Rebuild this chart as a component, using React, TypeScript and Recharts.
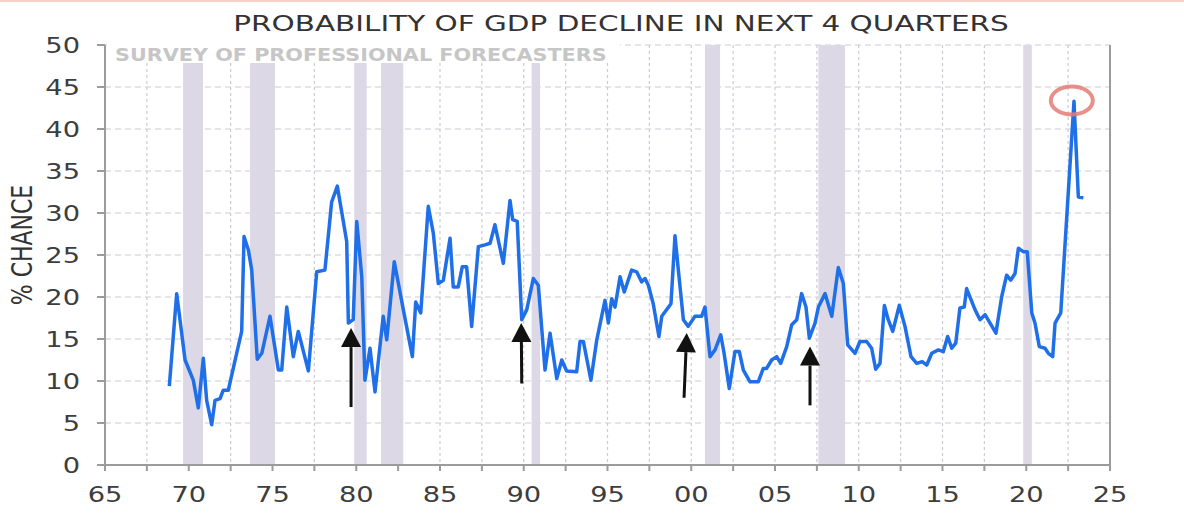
import React from 'react';
import {
  LineChart,
  Line,
  XAxis,
  YAxis,
  CartesianGrid,
  ReferenceArea,
  ReferenceLine,
  ReferenceDot,
} from 'recharts';

// ---- data ----
const years = [
  1968.84, 1969.28, 1969.78, 1970.27, 1970.57, 1970.87, 1971.07, 1971.37, 1971.57, 1971.87,
  1972.06, 1972.36, 1972.86, 1973.16, 1973.3, 1973.56, 1973.76, 1974.09, 1974.36, 1974.85,
  1975.35, 1975.55, 1975.85, 1976.24, 1976.54, 1977.14, 1977.64, 1978.13, 1978.53, 1978.87,
  1979.43, 1979.53, 1979.82, 1980.03, 1980.33, 1980.52, 1980.82, 1981.12, 1981.61, 1981.82,
  1982.27, 1982.81, 1983.35, 1983.55, 1983.85, 1984.3, 1984.6, 1984.9, 1985.2, 1985.6,
  1985.79, 1986.09, 1986.33, 1986.59, 1986.89, 1987.29, 1987.69, 1987.99, 1988.28, 1988.78,
  1989.18, 1989.34, 1989.61, 1989.88, 1990.18, 1990.57, 1990.87, 1991.27, 1991.57, 1991.97,
  1992.27, 1992.56, 1993.16, 1993.36, 1993.56, 1994.01, 1994.36, 1994.85, 1995.05, 1995.25,
  1995.45, 1995.75, 1996.0, 1996.44, 1996.74, 1997.04, 1997.24, 1997.44, 1997.73, 1998.07,
  1998.24, 1998.79, 1999.03, 1999.23, 1999.53, 1999.82, 2000.22, 2000.62, 2000.82, 2001.12,
  2001.42, 2001.76, 2001.96, 2002.27, 2002.61, 2002.87, 2003.11, 2003.51, 2004.0, 2004.3,
  2004.5, 2004.8, 2005.1, 2005.34, 2005.7, 2006.0, 2006.3, 2006.59, 2006.85, 2007.05,
  2007.39, 2007.59, 2007.99, 2008.39, 2008.78, 2009.08, 2009.34, 2009.78, 2010.07, 2010.47,
  2010.77, 2011.01, 2011.27, 2011.53, 2011.76, 2012.03, 2012.42, 2012.76, 2013.12, 2013.46,
  2013.79, 2014.06, 2014.36, 2014.75, 2015.05, 2015.31, 2015.55, 2015.79, 2016.04, 2016.3,
  2016.44, 2016.94, 2017.24, 2017.54, 2017.84, 2018.19, 2018.53, 2018.83, 2019.07, 2019.33,
  2019.53, 2019.82, 2020.06, 2020.33, 2020.52, 2020.78, 2021.12, 2021.32, 2021.58, 2021.72,
  2022.06, 2022.85, 2023.11, 2023.41,
];

const probability = [
  9.4, 20.4, 12.5, 10.1, 6.8, 12.7, 7.7, 4.8, 7.7, 7.9,
  8.9, 8.9, 13.3, 15.9, 27.2, 25.6, 23.2, 12.6, 13.3, 17.7,
  11.3, 11.3, 18.8, 12.9, 15.9, 11.2, 23.0, 23.2, 31.3, 33.2,
  26.6, 16.9, 17.3, 29.0, 22.4, 10.1, 13.9, 8.7, 17.7, 14.9,
  24.2, 18.5, 12.9, 19.4, 18.1, 30.8, 27.6, 21.6, 22.0, 27.0,
  21.2, 21.2, 23.6, 23.6, 16.5, 26.0, 26.2, 26.4, 28.6, 24.0,
  31.5, 29.2, 29.0, 17.3, 18.5, 22.2, 21.4, 11.3, 15.7, 10.3,
  12.5, 11.2, 11.1, 14.7, 14.7, 10.1, 14.9, 19.6, 16.9, 19.8,
  18.8, 22.4, 20.6, 23.2, 23.0, 21.8, 22.2, 21.4, 19.2, 15.3,
  17.7, 19.2, 27.3, 23.2, 17.3, 16.5, 17.7, 17.7, 18.8, 12.9,
  13.7, 15.5, 13.3, 9.1, 13.5, 13.5, 11.3, 9.9, 9.9, 11.5,
  11.5, 12.5, 12.9, 12.1, 14.1, 16.7, 17.3, 20.4, 18.8, 15.1,
  16.9, 18.8, 20.4, 17.7, 23.5, 21.6, 14.3, 13.3, 14.7, 14.7,
  13.9, 11.4, 12.1, 19.0, 17.3, 15.9, 19.0, 16.5, 12.9, 12.1,
  12.3, 11.9, 13.3, 13.7, 13.5, 15.3, 13.9, 14.5, 18.7, 18.8,
  21.0, 18.5, 17.3, 17.9, 16.9, 15.7, 20.0, 22.6, 22.0, 22.8,
  25.8, 25.4, 25.4, 18.1, 16.9, 14.1, 13.9, 13.3, 12.9, 16.9,
  18.1, 43.3, 31.9, 31.8,
];

const recessionStarts = [1969.66, 1973.66, 1979.88, 1981.48, 1990.47, 2000.82, 2007.59, 2019.82];
const recessionEnds = [1970.85, 1975.15, 1980.62, 1982.81, 1990.97, 2001.72, 2009.18, 2020.33];

const arrowBaseYears = [1979.69, 1989.88, 1999.57, 2007.09];
const arrowTipYears = [1979.69, 1989.85, 1999.73, 2007.09];
const arrowBaseValues = [6.9, 9.7, 8.0, 7.1];
const arrowTipValues = [16.3, 16.9, 15.7, 14.1];

const peakYear = 2022.72;
const peakValue = 43.4;

const xTicks = [
  1965, 1967.5, 1970, 1972.5, 1975, 1977.5, 1980, 1982.5, 1985, 1987.5, 1990, 1992.5,
  1995, 1997.5, 2000, 2002.5, 2005, 2007.5, 2010, 2012.5, 2015, 2017.5, 2020, 2022.5, 2025,
];
const yTicks = [0, 5, 10, 15, 20, 25, 30, 35, 40, 45, 50];

const title = 'PROBABILITY OF GDP DECLINE IN NEXT 4 QUARTERS';
const subtitle = 'SURVEY OF PROFESSIONAL FORECASTERS';
const yLabel = '% CHANCE';

const data = years.map((t, i) => ({ t, v: probability[i] }));

// ---- styles ----
const FONT = "'DejaVu Sans', Verdana, sans-serif";
const TICK_COLOR = '#3d3d3d';
const AXIS_COLOR = '#9b9b9b';
const TICK_SIZE = 21;
const TICK_SCALE = 1.3;

const XTick = (p: any) => {
  const { x, y, payload } = p;
  const v = payload.value;
  if (Math.abs(v - Math.round(v / 5) * 5) > 0.01) return <g />;
  const label = String(((Math.round(v) % 100) + 100) % 100).padStart(2, '0');
  return (
    <g transform={`translate(${x},${y}) scale(${TICK_SCALE},1)`}>
      <text textAnchor="middle" dy="0.71em" fontSize={TICK_SIZE} fill={TICK_COLOR} fontFamily={FONT}>
        {label}
      </text>
    </g>
  );
};

const YTickLeft = (p: any) => {
  const { x, y, payload } = p;
  return (
    <g transform={`translate(${x},${y}) scale(${TICK_SCALE},1)`}>
      <text textAnchor="end" dy="0.36em" fontSize={TICK_SIZE} fill={TICK_COLOR} fontFamily={FONT}>
        {payload.value}
      </text>
    </g>
  );
};

const YTickRight = (p: any) => {
  const { x, y, payload } = p;
  return (
    <g transform={`translate(${x},${y}) scale(${TICK_SCALE},1)`}>
      <text textAnchor="start" dy="0.36em" fontSize={TICK_SIZE} fill={TICK_COLOR} fontFamily={FONT}>
        {payload.value}
      </text>
    </g>
  );
};

const ArrowShape = (p: any) => {
  const { x1, y1, x2, y2 } = p;
  const dx = x2 - x1;
  const dy = y2 - y1;
  const len = Math.hypot(dx, dy) || 1;
  const ux = dx / len;
  const uy = dy / len;
  const hl = 19;
  const hw = 10;
  const bx = x2 - ux * hl;
  const by = y2 - uy * hl;
  const px = -uy;
  const py = ux;
  return (
    <g>
      <line x1={x1} y1={y1} x2={bx} y2={by} stroke="#111" strokeWidth={3} />
      <polygon
        points={`${x2},${y2} ${bx + px * hw},${by + py * hw} ${bx - px * hw},${by - py * hw}`}
        fill="#111"
      />
    </g>
  );
};

const CircleShape = (p: any) => (
  <ellipse cx={p.cx} cy={p.cy} rx={21} ry={14} fill="none" stroke="#e47b76" strokeOpacity={0.85} strokeWidth={4} />
);

export default function App() {
  return (
    <div
      style={{
        position: 'absolute',
        left: 0,
        top: 0,
        width: 1184,
        height: 518,
        background: '#ffffff',
        overflow: 'hidden',
      }}
    >
      <div style={{ position: 'absolute', left: 0, top: 0, width: 1184, height: 2, background: '#f4d2c8' }} />
      <LineChart width={1184} height={518} data={data} margin={{ top: 45, right: 0, bottom: 0, left: 0 }}>
        <CartesianGrid horizontal={false} vertical stroke="#cbcbd6" strokeDasharray="3 3" strokeWidth={1.2} />
        <CartesianGrid horizontal vertical={false} stroke="#cbcbd6" strokeDasharray="6 4" strokeWidth={1.2} />
        {recessionStarts.map((s, i) => (
          <ReferenceArea
            key={`rec-${i}`}
            x1={s}
            x2={recessionEnds[i]}
            y1={0}
            y2={50}
            fill="#ddd8e6"
            fillOpacity={1}
            stroke="none"
          />
        ))}
        <XAxis
          type="number"
          dataKey="t"
          domain={[1965, 2025]}
          ticks={xTicks}
          interval={0}
          height={53}
          tick={<XTick />}
          tickSize={6}
          tickMargin={16}
          axisLine={{ stroke: AXIS_COLOR, strokeWidth: 2 }}
          tickLine={{ stroke: AXIS_COLOR, strokeWidth: 2 }}
          allowDataOverflow
        />
        <YAxis
          type="number"
          domain={[0, 50]}
          ticks={yTicks}
          interval={0}
          width={105}
          tick={<YTickLeft />}
          tickSize={8}
          tickMargin={17}
          axisLine={{ stroke: AXIS_COLOR, strokeWidth: 2 }}
          tickLine={{ stroke: AXIS_COLOR, strokeWidth: 2 }}
        />
        <YAxis
          yAxisId="right"
          orientation="right"
          type="number"
          domain={[0, 50]}
          ticks={yTicks}
          interval={0}
          width={74}
          tick={<YTickRight />}
          tickSize={10}
          tickMargin={20}
          axisLine={{ stroke: AXIS_COLOR, strokeWidth: 2 }}
          tickLine={{ stroke: AXIS_COLOR, strokeWidth: 2 }}
        />
        <Line
          type="linear"
          dataKey="v"
          stroke="#1f6fe9"
          strokeWidth={3.5}
          dot={false}
          isAnimationActive={false}
          strokeLinejoin="round"
        />
        {arrowBaseYears.map((bx, i) => (
          <ReferenceLine
            key={`arrow-${i}`}
            segment={[
              { x: bx, y: arrowBaseValues[i] },
              { x: arrowTipYears[i], y: arrowTipValues[i] },
            ]}
            shape={ArrowShape}
            ifOverflow="visible"
          />
        ))}
        <ReferenceDot x={peakYear} y={peakValue} r={20} shape={CircleShape} ifOverflow="visible" />
      </LineChart>
      <svg
        width={1184}
        height={518}
        style={{ position: 'absolute', left: 0, top: 0, pointerEvents: 'none' }}
      >
        <rect x={107} y={44} width={513} height={19} fill="#ffffff" />
        <g transform="translate(115,61) scale(1.22,1)">
          <text fontSize={17} fontWeight="bold" fill="#c6c6c6" fontFamily={FONT}>
            {subtitle}
          </text>
        </g>
        <g transform="translate(621,31) scale(1.34,1)">
          <text textAnchor="middle" fontSize={22} fill="#333333" fontFamily={FONT}>
            {title}
          </text>
        </g>
        <g transform="translate(22,245) scale(1.25,1) rotate(-90)">
          <text textAnchor="middle" dy="0.36em" fontSize={22} fill="#333333" fontFamily={FONT}>
            {yLabel}
          </text>
        </g>
      </svg>
    </div>
  );
}
